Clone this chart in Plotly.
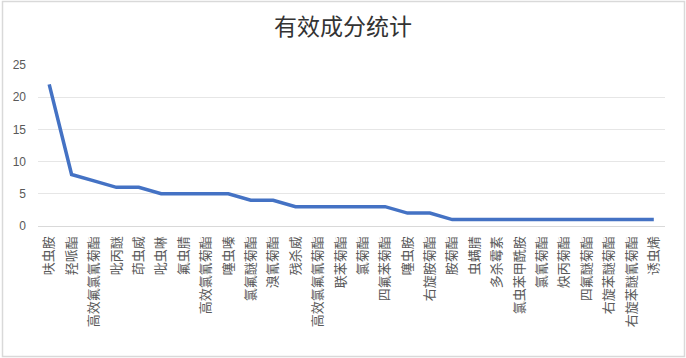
import plotly.graph_objects as go

categories = ["呋虫胺", "羟哌酯", "高效氟氯氰菊酯", "吡丙醚", "茚虫威", "吡虫啉", "氟虫腈",
              "高效氯氰菊酯", "噻虫嗪", "氯氟醚菊酯", "溴氰菊酯", "残杀威", "高效氯氟氰菊酯",
              "联苯菊酯", "氯菊酯", "四氟苯菊酯", "噻虫胺", "右旋胺菊酯", "胺菊酯", "虫螨腈",
              "多杀霉素", "氯虫苯甲酰胺", "氯氰菊酯", "炔丙菊酯", "四氟醚菊酯", "右旋苯醚菊酯",
              "右旋苯醚氰菊酯", "诱虫烯"]
counts = [22, 8, 7, 6, 6, 5, 5, 5, 5, 4, 4, 3, 3, 3, 3, 3, 2, 2, 1, 1, 1, 1, 1, 1, 1, 1, 1, 1]
y_ticks = [0, 5, 10, 15, 20, 25]

W, H = 686, 358
ml, mr, mt, mb = 38, 21, 65, 132

fig = go.Figure()
fig.add_trace(go.Scatter(x=categories, y=counts, mode="lines",
                         line=dict(color="#4472C4", width=3.5)))

pw = W - ml - mr
ph = H - mt - mb
fig.add_shape(type="rect", xref="paper", yref="paper",
              x0=(-ml + 2.5) / pw, x1=1 + (mr - 1.5) / pw,
              y0=(-mb + 1.5) / ph, y1=1 + (mt - 1.5) / ph,
              line=dict(color="#D9D9D9", width=1.5), layer="below")

fig.update_layout(
    width=W, height=H,
    margin=dict(l=ml, r=mr, t=mt, b=mb, autoexpand=False),
    paper_bgcolor="white", plot_bgcolor="white",
    showlegend=False,
    title=dict(text="有效成分统计", x=0.5, xanchor="center", y=1 - 27 / H, yanchor="middle",
               font=dict(family="Noto Sans CJK SC", size=23, color="#333333")),
    font=dict(family="Noto Sans CJK SC", size=12, color="#595959"),
    xaxis=dict(type="category", range=[-0.5, len(categories) - 0.5], tickangle=-90,
               automargin=False,
               showgrid=False, showline=True, linecolor="#D9D9D9", linewidth=1,
               ticks="", tickfont=dict(size=13, color="#595959"), ticklabelstandoff=4),
    yaxis=dict(range=[0, 25], tickvals=y_ticks, showgrid=True, gridcolor="#E6E6E6",
               automargin=False,
               gridwidth=1, zeroline=False, showline=False, ticks="",
               tickfont=dict(family="Liberation Sans", size=12, color="#595959"),
               ticklabelstandoff=11),
)

fig.write_html("out.html", config={"displayModeBar": False},
               post_script="document.body.style.margin='0';document.body.style.overflow='hidden';")
